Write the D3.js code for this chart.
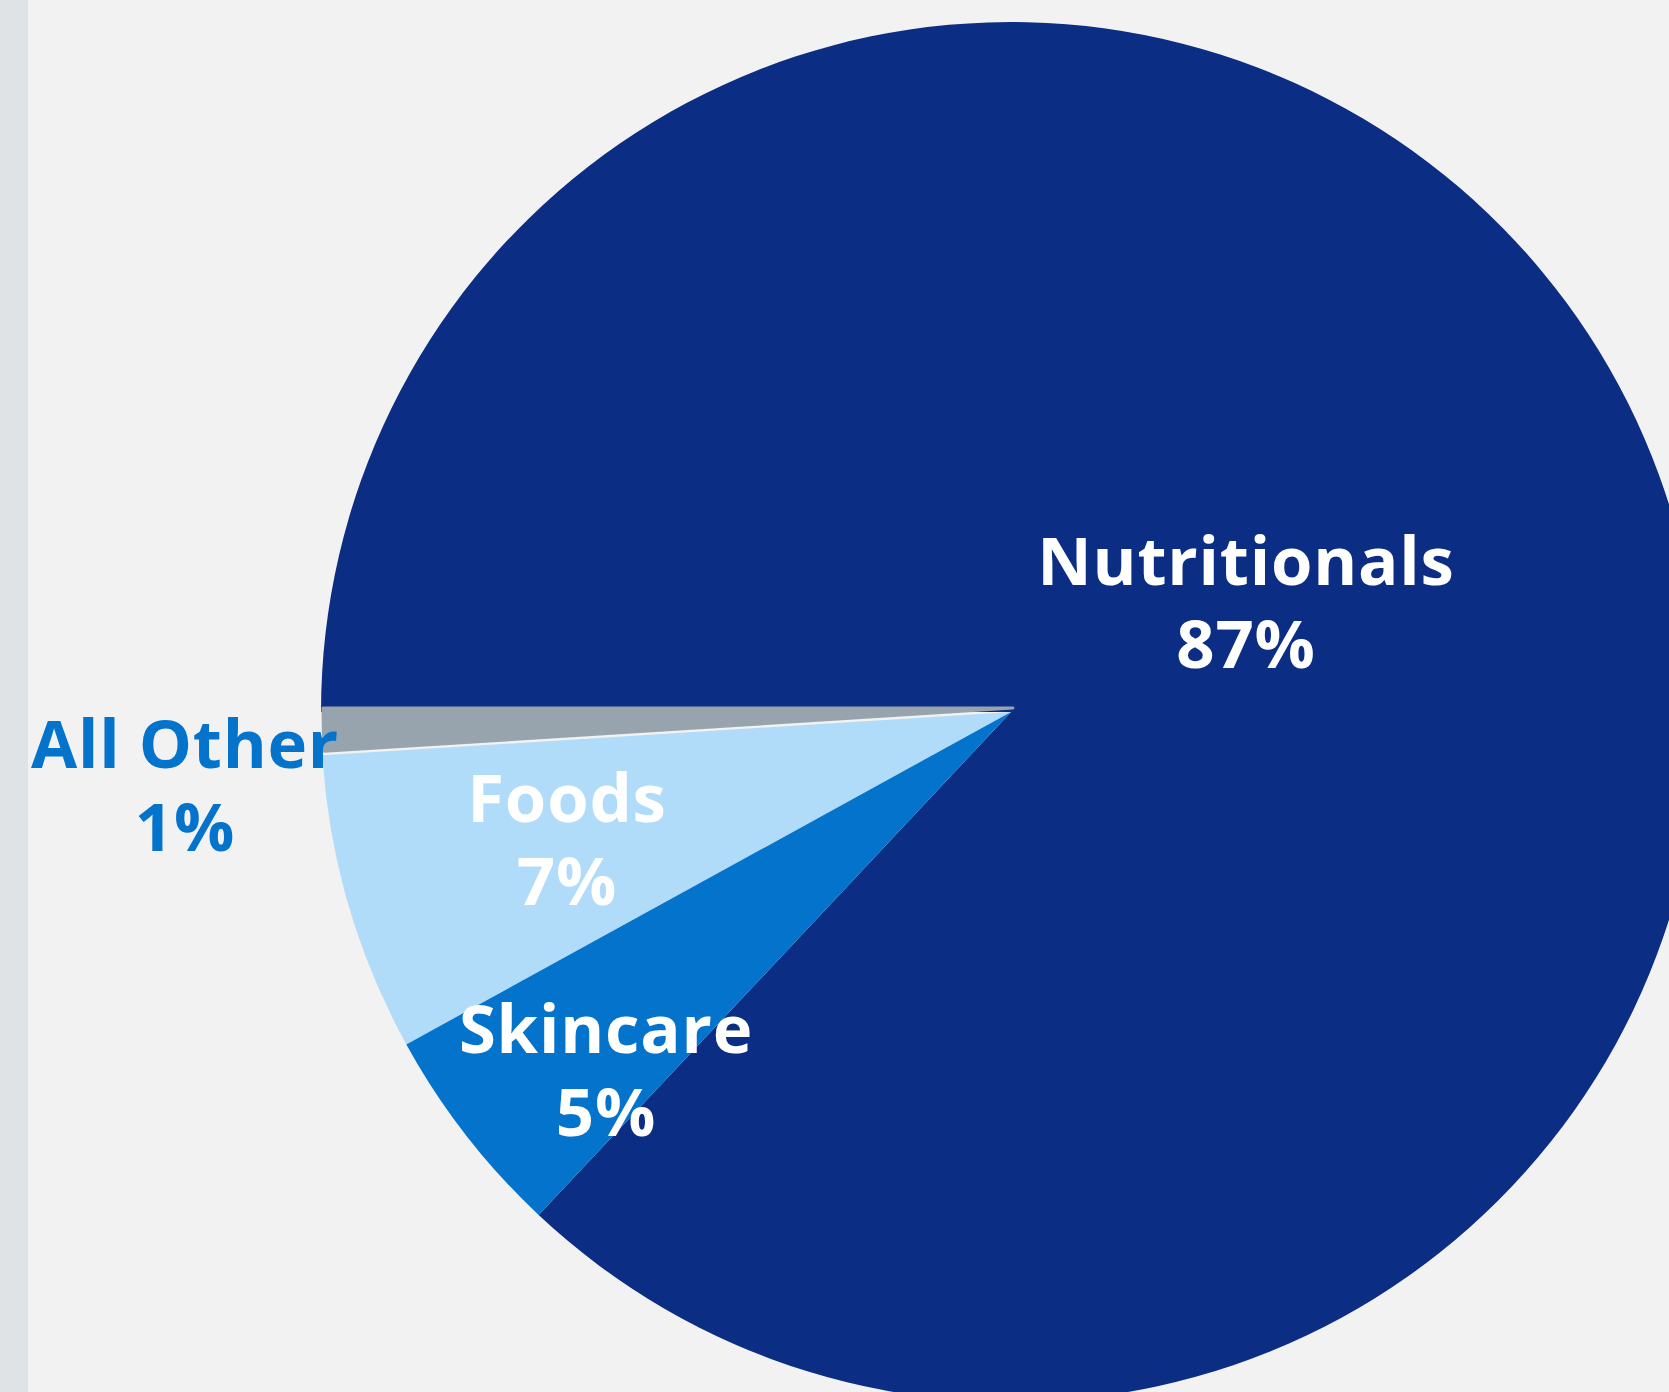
<!DOCTYPE html>
<html>
<head>
<meta charset="utf-8">
<script src="https://cdn.jsdelivr.net/npm/d3@7/dist/d3.min.js"></script>
<style>
  html, body { margin: 0; padding: 0; background: #f2f2f2; overflow: hidden; }
  svg { display: block; }
  text { font-family: "Open Sans", "DejaVu Sans", sans-serif; font-weight: 700; letter-spacing: 0.8px; }
</style>
</head>
<body>
<svg id="chart" width="1669" height="1392"></svg>
<script>
// Revenue mix by category (percent of total)
const categories = ["All Other", "Foods", "Skincare", "Nutritionals"];
const shares = [1, 7, 5, 87];
const shareLabels = ["1%", "7%", "5%", "87%"];
const sliceColors = ["#98a4ad", "#b0dcf9", "#0373cb", "#0b2d84"];
const labelColors = ["#0373cb", "#ffffff", "#ffffff", "#ffffff"];

// Label placement relative to the pie centre: [x offset, first baseline offset]
const labelOffsets = [[-826, 56], [-444, 110], [-405, 341], [235, -127]];

const width = 1669, height = 1392;
const cx = 1011, cy = 712, radius = 690;
const lineGap = 83;

const svg = d3.select("#chart");

svg.append("rect")
  .attr("width", width).attr("height", height)
  .attr("fill", "#f2f2f2");

// Thin side strip on the left edge
svg.append("rect")
  .attr("x", 0).attr("y", 0)
  .attr("width", 28).attr("height", height)
  .attr("fill", "#dfe3e6");

const data = categories.map((c, i) => ({ category: c, value: shares[i], label: shareLabels[i], i }));

// Slices run counter-clockwise, starting at 9 o'clock
const pie = d3.pie()
  .value(d => d.value)
  .sort(null)
  .startAngle(1.5 * Math.PI)
  .endAngle(-0.5 * Math.PI);

const arc = d3.arc().innerRadius(0).outerRadius(radius);

const arcs = pie(data);
const color = d3.scaleOrdinal().domain(categories).range(sliceColors);

const g = svg.append("g").attr("transform", `translate(${cx},${cy})`);

// Draw the large slice first so the small wedges sit on top of it
const drawOrder = [3, 0, 1, 2].map(k => arcs[k]);

g.selectAll("path.slice")
  .data(drawOrder)
  .join("path")
  .attr("class", "slice")
  .attr("d", arc)
  .attr("fill", d => color(d.data.category))
  .attr("transform", d => d.data.category === "All Other" ? "translate(2,-4)" : null)
  .attr("stroke", d => d.data.category === "All Other" ? color(d.data.category) : "none")
  .attr("stroke-width", 3)
  .attr("stroke-linejoin", "round");

// Category name and share, two centred lines per slice
const labels = g.selectAll("g.label")
  .data(arcs)
  .join("g")
  .attr("class", "label")
  .attr("transform", d => {
    const o = labelOffsets[d.data.i];
    return `translate(${o[0]},${o[1]})`;
  });

labels.append("text")
  .attr("text-anchor", "middle")
  .attr("font-size", 67)
  .attr("fill", d => labelColors[d.data.i])
  .text(d => d.data.category);

labels.append("text")
  .attr("text-anchor", "middle")
  .attr("y", lineGap)
  .attr("font-size", 67)
  .attr("fill", d => labelColors[d.data.i])
  .text(d => d.data.label);
</script>
</body>
</html>
